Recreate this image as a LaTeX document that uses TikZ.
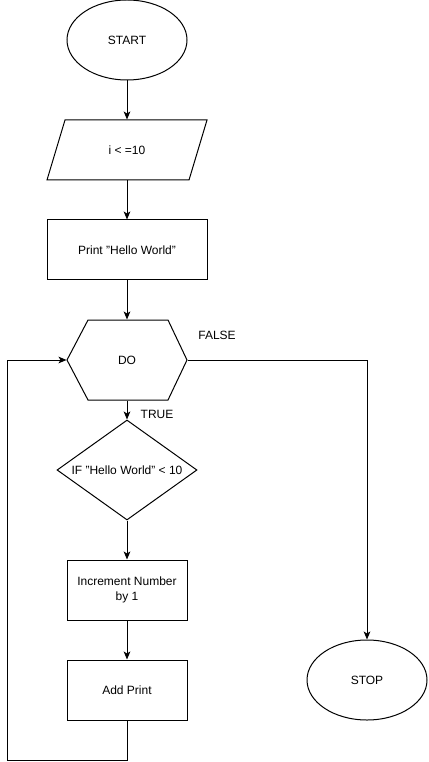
\documentclass[tikz,border=0pt]{standalone}
\usepackage{fontspec}
\setmainfont{Liberation Sans}
\usepackage{tikz}
\usetikzlibrary{arrows.meta}
\usetikzlibrary{shapes.geometric}

\begin{document}
\begin{tikzpicture}[x=0.75pt,y=-0.75pt,line width=0.75pt,
        >={Stealth[length=6pt,width=5pt,inset=1.5pt]},
        every node/.style={font=\fontsize{9pt}{11pt}\selectfont,inner sep=0pt},
        terminal/.style={draw,ellipse,minimum width=90pt,minimum height=60pt},
        process/.style={draw,rectangle,minimum width=90pt,minimum height=45pt,align=center},
        decision/.style={draw,diamond,aspect=1.4,minimum width=105pt,minimum height=75pt}]
            \useasboundingbox (0,0) rectangle (428,762);

            \node[terminal] (start) at (127,40) {START};
            \node[minimum width=120pt,minimum height=45pt] (cond) at (127,150) {i < =10};
            \draw[shift={(cond.center)}] (-62,-30) -- (80,-30) -- (62,30) -- (-80,30) -- cycle;
            \node[process,minimum width=120pt] (print) at (127,250) {Print \symbol{34}Hello World\symbol{34}};
            \node[minimum width=90pt,minimum height=60pt] (do) at (127,360) {DO};
            \draw[shift={(do.center)}] (-60,0) -- (-39,-40) -- (41,-40) -- (60,0) -- (41,40) -- (-39,40) -- cycle;
            \node[] (lblfalse) at (217,335) {FALSE};
            \node[] (lbltrue) at (157,414) {TRUE};
            \node[decision] (check) at (127,470) {IF \symbol{34}Hello World\symbol{34} < 10};
            \node[process] (incr) at (127,590) {Increment Number\\by 1};
            \node[process] (addp) at (127,690) {Add Print};
            \node[terminal] (stop) at (367,680) {STOP};
            \coordinate (loop) at (7,760);

            \draw[->] (start) -- (cond);
            \draw[->] (cond) -- (print);
            \draw[->] (print) -- (do);
            \draw[->] (do) -- (check);
            \draw[->] (check) -- (incr);
            \draw[->] (incr) -- (addp);
            \draw[->] (addp.south) |- (loop) |- (do.west);
            \draw[->] (do.east) -| (stop.north);
        \end{tikzpicture}
\end{document}
